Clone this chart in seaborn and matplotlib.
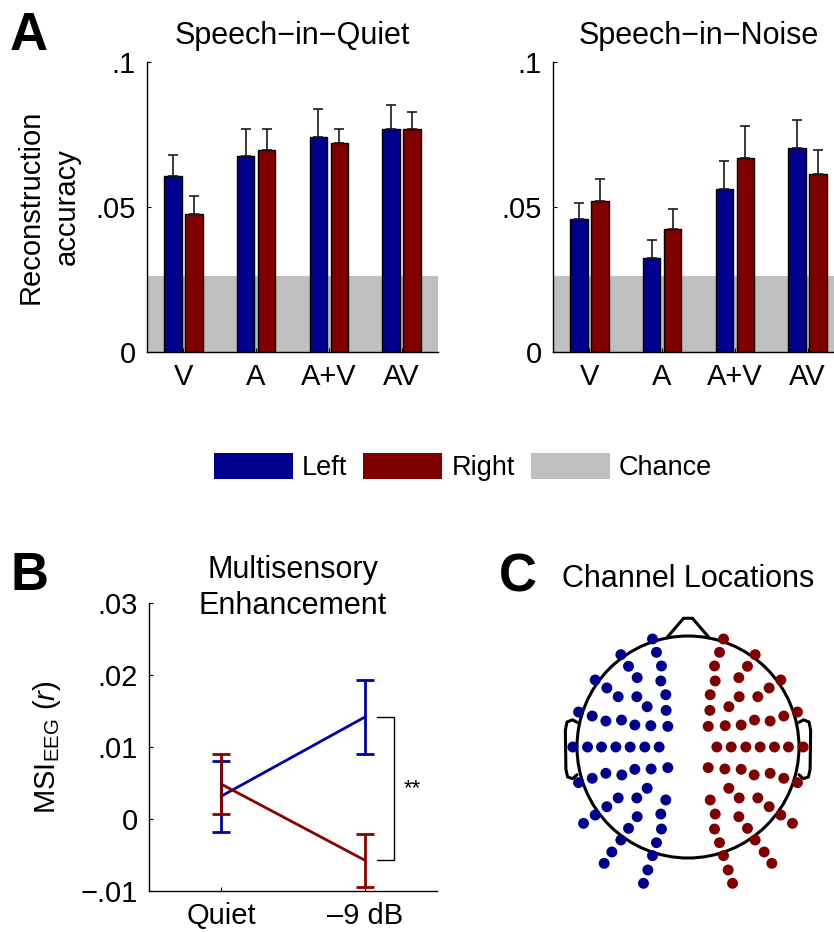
import numpy as np
import pandas as pd
import matplotlib
matplotlib.use("Agg")
import matplotlib.pyplot as plt
from matplotlib.patches import Patch, Circle
import seaborn as sns

sns.set_theme(style="ticks")
plt.rcParams['font.family'] = ['Liberation Sans', 'DejaVu Sans']
plt.rcParams['mathtext.fontset'] = 'custom'
plt.rcParams['mathtext.rm'] = 'Liberation Sans'
plt.rcParams['mathtext.it'] = 'Liberation Sans:italic'
plt.rcParams['text.color'] = 'black'
plt.rcParams['axes.labelcolor'] = 'black'
plt.rcParams['xtick.color'] = 'black'
plt.rcParams['ytick.color'] = 'black'

# ---------------- data ----------------
conditions = ["V", "A", "A+V", "AV"]
quiet_left = [0.0606, 0.0677, 0.0740, 0.0770]
quiet_left_err = [0.0074, 0.0093, 0.0097, 0.0081]
quiet_right = [0.0476, 0.0697, 0.0721, 0.0770]
quiet_right_err = [0.0061, 0.0073, 0.0049, 0.0056]
noise_left = [0.0459, 0.0323, 0.0562, 0.0703]
noise_left_err = [0.0055, 0.0063, 0.0095, 0.0097]
noise_right = [0.0522, 0.0424, 0.0670, 0.0614]
noise_right_err = [0.0073, 0.0068, 0.0108, 0.0083]
chance_level = 0.0262

msi_conditions = ["Quiet", "\u20139 dB"]
msi_left = [0.00315, 0.01417]
msi_left_err = [0.0049, 0.0051]
msi_right = [0.00486, -0.00574]
msi_right_err = [0.0042, 0.0037]

# left-hemisphere channel locations (head-normalised; right side is mirrored)
chan_u = [-0.320, -0.605, -0.284, -0.536, -0.239, -0.836, -0.458, -0.245, -0.731,
          -0.629, -0.461, -0.200, -0.368, -0.197, -0.986, -0.863, -0.740, -0.599,
          -0.479, -0.335, -0.182, -1.038, -0.905, -0.779, -0.650, -0.521, -0.389,
          -0.260, -0.182, -0.332, -0.479, -0.596, -0.740, -0.863, -0.986, -0.368,
          -0.629, -0.461, -0.200, -0.731, -0.836, -0.941, -0.458, -0.245, -0.536,
          -0.239, -0.605, -0.284, -0.686, -0.320, -0.755, -0.362, -0.401]
chan_v = [0.973, 0.832, 0.853, 0.727, 0.730, 0.604, 0.625, 0.595, 0.532,
          0.453, 0.453, 0.471, 0.363, 0.330, 0.315, 0.279, 0.234, 0.243,
          0.198, 0.192, 0.186, 0.0, 0.0, 0.0, 0.0, 0.0, 0.0,
          0.0, -0.186, -0.198, -0.201, -0.252, -0.237, -0.282, -0.321, -0.372,
          -0.459, -0.459, -0.477, -0.538, -0.613, -0.688, -0.628, -0.604, -0.733,
          -0.739, -0.838, -0.862, -0.946, -0.979, -1.048, -1.108, -1.228]

BLUE = "#00008F"
RED = "#800000"
GRAY = "#BFBFBF"
LBLUE = "#0000A8"
LRED = "#8C0000"
FS = 21      # tick labels / axis labels
FT = 22      # titles

fig = plt.figure(figsize=(8.34, 9.32), dpi=100)
W, H = 834.0, 932.0


def ax_px(x0, y0, x1, y1):
    return fig.add_axes([x0 / W, 1 - y1 / H, (x1 - x0) / W, (y1 - y0) / H])


def bar_panel(ax, left, left_err, right, right_err, title, ylabel):
    df = pd.DataFrame({
        "cond": conditions * 2,
        "val": list(left) + list(right),
        "side": ["Left"] * 4 + ["Right"] * 4,
    })
    ax.axhspan(0, chance_level, color=GRAY, lw=0, zorder=0)
    sns.barplot(data=df, x="cond", y="val", hue="side", order=conditions,
                hue_order=["Left", "Right"], palette=[BLUE, RED],
                width=0.58, gap=0.17, errorbar=None, edgecolor="black",
                linewidth=1.0, saturation=1, ax=ax, legend=False, zorder=2)
    patches = [p for p in ax.patches if p.get_height() > 0 and p.get_width() < 0.5]
    patches = sorted(patches, key=lambda p: p.get_x())
    ordered_err = []
    for i in range(4):
        ordered_err += [left_err[i], right_err[i]]
    for p, e in zip(patches, ordered_err):
        cx = p.get_x() + p.get_width() / 2
        ax.errorbar(cx, p.get_height(), yerr=[[0], [e]], fmt="none", ecolor="#1a1a1a",
                    elinewidth=1.2, capsize=3.4, capthick=1.2, zorder=3)
    ax.set_xlim(-0.5, 3.5)
    ax.set_ylim(0, 0.1)
    ax.set_yticks([0, 0.05, 0.1])
    ax.set_yticklabels(["0", ".05", ".1"])
    ax.set_xticks(range(4))
    ax.set_xticklabels(conditions)
    ax.set_xlabel("")
    ax.set_ylabel(ylabel, fontsize=FS, linespacing=1.35)
    ax.tick_params(direction="in", length=3, width=0.8, labelsize=FS, pad=8,
                   color="black", labelcolor="black")
    ax.set_title(title, fontsize=FT, pad=13, color="black")
    for s in ["top", "right"]:
        ax.spines[s].set_visible(False)
    for s in ["left", "bottom"]:
        ax.spines[s].set_color("black")
        ax.spines[s].set_linewidth(1.0)
    ax.set_facecolor("none")


axA1 = ax_px(147, 62, 438, 352)
bar_panel(axA1, quiet_left, quiet_left_err, quiet_right, quiet_right_err,
          "Speech\u2212in\u2212Quiet", "Reconstruction\naccuracy")
axA1.yaxis.set_label_coords(-0.228, 0.5)

axA2 = ax_px(553, 62, 844, 352)
bar_panel(axA2, noise_left, noise_left_err, noise_right, noise_right_err,
          "Speech\u2212in\u2212Noise", "")

# legend
handles = [Patch(facecolor=BLUE, edgecolor="none", label="Left"),
           Patch(facecolor=RED, edgecolor="none", label="Right"),
           Patch(facecolor=GRAY, edgecolor="none", label="Chance")]
fig.legend(handles=handles, loc="center", bbox_to_anchor=(463 / W, 1 - 467 / H),
           ncol=3, frameon=False, fontsize=19.5, handlelength=2.92,
           handleheight=1.12, handletextpad=0.33, columnspacing=0.6,
           borderaxespad=0, borderpad=0, labelcolor="black")

# ---------------- panel B ----------------
axB = ax_px(149, 603, 437, 891)
dfB = pd.DataFrame({
    "x": [0, 1, 0, 1],
    "msi": msi_left + msi_right,
    "side": ["Left", "Left", "Right", "Right"],
})
sns.lineplot(data=dfB, x="x", y="msi", hue="side", hue_order=["Left", "Right"],
             palette=[LBLUE, LRED], linewidth=2.0, ax=axB, legend=False,
             errorbar=None)
axB.errorbar([0, 1], msi_left, yerr=msi_left_err, fmt="none", ecolor=LBLUE,
             elinewidth=2.0, capsize=6.5, capthick=2.0, zorder=3)
axB.errorbar([0, 1], msi_right, yerr=msi_right_err, fmt="none", ecolor=LRED,
             elinewidth=2.0, capsize=6.5, capthick=2.0, zorder=4)
axB.set_xlim(-0.5, 1.5)
axB.set_ylim(-0.01, 0.03)
axB.set_yticks([-0.01, 0, 0.01, 0.02, 0.03])
axB.set_yticklabels(["\u2212.01", "0", ".01", ".02", ".03"])
axB.set_xticks([0, 1])
axB.set_xticklabels(msi_conditions)
axB.set_xlabel("")
axB.set_ylabel(r"MSI$_{\mathrm{EEG}}$ ($\mathit{r}$)", fontsize=FS)
axB.yaxis.set_label_coords(-0.30, 0.5)
axB.tick_params(direction="in", length=3, width=0.8, labelsize=FS, pad=8,
                color="black", labelcolor="black")
for s in ["top", "right"]:
    axB.spines[s].set_visible(False)
for s in ["left", "bottom"]:
    axB.spines[s].set_color("black")
    axB.spines[s].set_linewidth(1.0)
# significance bracket
bx0, bx1 = 1.083, 1.20
axB.plot([bx0, bx1, bx1, bx0], [msi_left[1], msi_left[1], msi_right[1], msi_right[1]],
         color="black", lw=1.0)
axB.text(1.33, (msi_left[1] + msi_right[1]) / 2, "**", fontsize=16,
         ha="center", va="center", color="black")
fig.text(293 / W, 1 - 578 / H, "Multisensory", fontsize=FT, ha="center", va="baseline")
fig.text(293 / W, 1 - 614 / H, "Enhancement", fontsize=FT, ha="center", va="baseline")

# ---------------- panel C ----------------
axC = ax_px(538, 597, 838, 897)
R = 150 / 111.0
axC.set_xlim(-R, R)
axC.set_ylim(-R, R)
axC.set_aspect("equal")
axC.axis("off")
u = np.array(chan_u)
v = np.array(chan_v)
dfC = pd.DataFrame({
    "u": np.concatenate([u, -u]),
    "v": np.concatenate([v, v]),
    "side": ["Left"] * len(u) + ["Right"] * len(u),
})
axC.add_patch(Circle((0, 0), 1.0, fill=False, lw=2.2, ec="black", zorder=1))
axC.plot([-0.19, -0.04, 0.04, 0.19], [0.985, 1.16, 1.16, 0.985], color="black",
         lw=2.2, solid_joinstyle="round", zorder=1)
ear_u = np.array([-0.995, -1.04, -1.09, -1.105, -1.10, -1.085, -1.04, -1.0])
ear_v = np.array([0.22, 0.245, 0.225, 0.15, -0.20, -0.27, -0.285, -0.25])
axC.plot(ear_u, ear_v, color="black", lw=2.2, solid_joinstyle="round", zorder=1)
axC.plot(-ear_u, ear_v, color="black", lw=2.2, solid_joinstyle="round", zorder=1)
sns.scatterplot(data=dfC, x="u", y="v", hue="side", hue_order=["Left", "Right"],
                palette=[BLUE, RED], s=62, linewidth=0, ax=axC, legend=False,
                zorder=3)
axC.set_xlabel("")
axC.set_ylabel("")
fig.text(688 / W, 1 - 587 / H, "Channel Locations", fontsize=FT, ha="center",
         va="baseline")

# panel letters
for lab, x, y in [("A", 10, 50), ("B", 11, 590), ("C", 499, 591)]:
    fig.text(x / W, 1 - y / H, lab, fontsize=38, fontweight="bold",
             ha="left", va="baseline", color="black")

fig.savefig("out.png", dpi=100)
